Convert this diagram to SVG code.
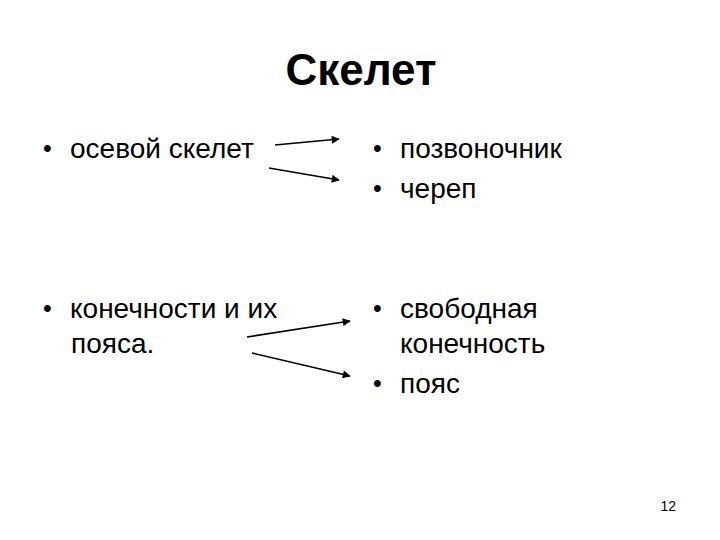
<svg xmlns="http://www.w3.org/2000/svg" width="720" height="540" viewBox="0 0 720 540">
<defs>
<style>
text{font-family:"Liberation Sans",Arial,sans-serif;fill:#000}
.t{font-size:44px;font-weight:bold}
.b{font-size:28px}
.d{font-size:25px}
.n{font-size:14px}
.c{stroke:#000;stroke-width:1.6;fill:none;marker-end:url(#ah)}
</style>
<marker id="ah" viewBox="0 0 10 10" refX="9" refY="5" markerWidth="6" markerHeight="5" orient="auto" markerUnits="strokeWidth">
<path d="M0,0 L10,5 L0,10 z" fill="#000"/>
</marker>
</defs>
<rect width="720" height="540" fill="#fff"/>
<g id="title"><text class="t" x="361" y="85" text-anchor="middle">Скелет</text></g>
<g id="axial"><text class="d" x="43" y="157">•</text><text class="b" x="70" y="158">осевой скелет</text></g>
<g id="spine"><text class="d" x="373" y="157">•</text><text class="b" x="400" y="158">позвоночник</text></g>
<g id="skull"><text class="d" x="373" y="197">•</text><text class="b" x="400" y="198">череп</text></g>
<g id="limbs"><text class="d" x="43" y="317">•</text><text class="b" x="70" y="318">конечности и их</text><text class="b" x="71" y="353">пояса.</text></g>
<g id="freelimb"><text class="d" x="373" y="317">•</text><text class="b" x="400" y="318">свободная</text><text class="b" x="400" y="353">конечность</text></g>
<g id="girdle"><text class="d" x="373" y="392">•</text><text class="b" x="400" y="393">пояс</text></g>
<g id="connectors">
<line class="c" x1="275" y1="145" x2="339" y2="139"/>
<line class="c" x1="269" y1="168" x2="339" y2="180"/>
<line class="c" x1="247" y1="337" x2="350" y2="321"/>
<line class="c" x1="252" y1="353" x2="350" y2="376"/>
</g>
<g id="page"><text class="n" x="676" y="511" text-anchor="end">12</text></g>
</svg>
